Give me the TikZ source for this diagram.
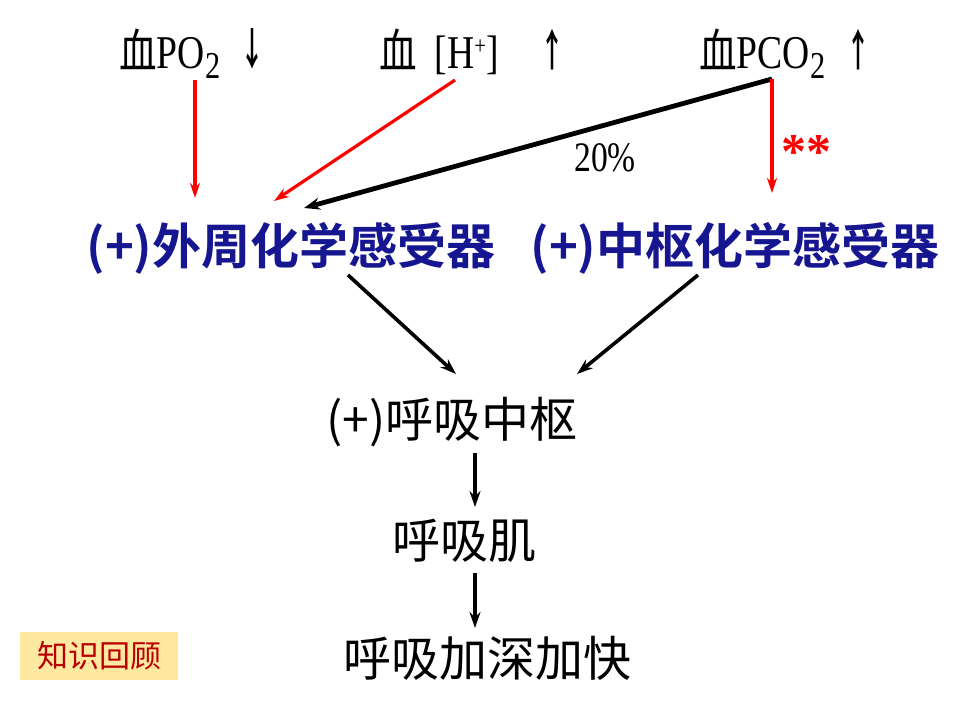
\documentclass[tikz,border=0pt]{standalone}
\usepackage{fontspec}
\setmainfont{Liberation Serif}
\newfontfamily\cjk{Noto Sans CJK SC}
\newfontfamily\cjkbold{Noto Sans CJK SC Bold}
\usetikzlibrary{arrows.meta}
\definecolor{bluetxt}{RGB}{22,22,145}
\definecolor{arrred}{RGB}{255,0,0}
\definecolor{boxfill}{RGB}{255,232,160}
\definecolor{boxtxt}{RGB}{185,0,0}
\newcommand{\cnd}[1]{\scalebox{0.8}[1]{#1}}
\newcommand{\subtwo}{{\fontsize{38}{38}\selectfont\raisebox{-10pt}{\cnd{\kern1pt 2}}}}
\begin{document}
\begin{tikzpicture}[x=1pt,y=-1pt,
  toptxt/.style={inner sep=0pt, anchor=base west, font=\fontsize{47}{50}\selectfont},
  symb/.style={inner sep=0pt, font=\cjkbold\fontsize{40}{44}\selectfont},
  bluebox/.style={inner sep=0pt, text=bluetxt, font=\cjkbold\fontsize{49}{56}\selectfont},
  plain/.style={inner sep=0pt, font=\cjk\fontsize{48}{54}\selectfont},
  redarrow/.style={draw=arrred, line width=3.2pt, -{Stealth[length=15pt,width=10pt]}},
  blackarrow/.style={draw=black, line width=3.6pt, -{Stealth[length=16pt,width=11pt]}},
  thickarrow/.style={draw=black, line width=4.8pt, -{Stealth[length=16pt,width=12pt]}}]
\useasboundingbox (0,0) rectangle (960,720);
% top row
\node[toptxt] (po2) at (119,68) {\cnd{{\cjk 血}PO}\subtwo};
\node[symb] (po2arr) at (252,49) {\scalebox{0.6}[1.1]{↓}};
\node[toptxt] (hplus) at (379,68) {{\cjk\cnd{血}}\hspace{18pt}\cnd{[H\raisebox{14pt}{\fontsize{26}{26}\selectfont +}]}};
\node[symb] (harr) at (552,50) {\scalebox{0.6}[1.1]{↑}};
\node[toptxt] (pco2) at (699,68) {\cnd{{\cjk 血}PCO}\subtwo};
\node[symb] (pcoarr) at (858,50) {\scalebox{0.6}[1.1]{↑}};
% receptors
\node[bluebox] (peri) at (291,248) {(+)外周化学感受器};
\node[bluebox] (cent) at (735,248) {(+)中枢化学感受器};
% lower chain
\node[plain] (resp) at (452,422) {(+)呼吸中枢};
\node[plain] (musc) at (464,541) {呼吸肌};
\node[plain] (deep) at (487,658) {呼吸加深加快};
% labels
\node[inner sep=0pt, font=\fontsize{42}{44}\selectfont] (pct) at (605,158) {\cnd{20\%}};
\node[inner sep=0pt, text=arrred, font=\bfseries\fontsize{50}{50}\selectfont] (stars) at (806,152) {**};
% knowledge box
\node[fill=boxfill, text=boxtxt, minimum width=158pt, minimum height=48pt, inner sep=0pt,
      font=\cjk\fontsize{31}{34}\selectfont] (recall) at (99,656) {知识回顾};
% connector end points
\coordinate (po2s) at (195,80);
\coordinate (perin1) at (195,198);
\coordinate (hs) at (455,80);
\coordinate (perin2) at (274,201);
\coordinate (pcos) at (772,79);
\coordinate (perin3) at (304,208);
\coordinate (centin) at (772,193);
\coordinate (periout) at (348,275);
\coordinate (centout) at (698,275);
\coordinate (respin1) at (456,374);
\coordinate (respin2) at (577,374);
\coordinate (respout) at (475,453);
\coordinate (muscin) at (475,507);
\coordinate (muscout) at (475,573);
\coordinate (deepin) at (475,628);
% connectors
\draw[redarrow] (po2s) -- (perin1);
\draw[redarrow] (hs) -- (perin2);
\draw[thickarrow] (pcos) -- (perin3);
\draw[redarrow] (pcos) -- (centin);
\draw[blackarrow] (periout) -- (respin1);
\draw[blackarrow] (centout) -- (respin2);
\draw[blackarrow] (respout) -- (muscin);
\draw[blackarrow] (muscout) -- (deepin);
\end{tikzpicture}
\end{document}
